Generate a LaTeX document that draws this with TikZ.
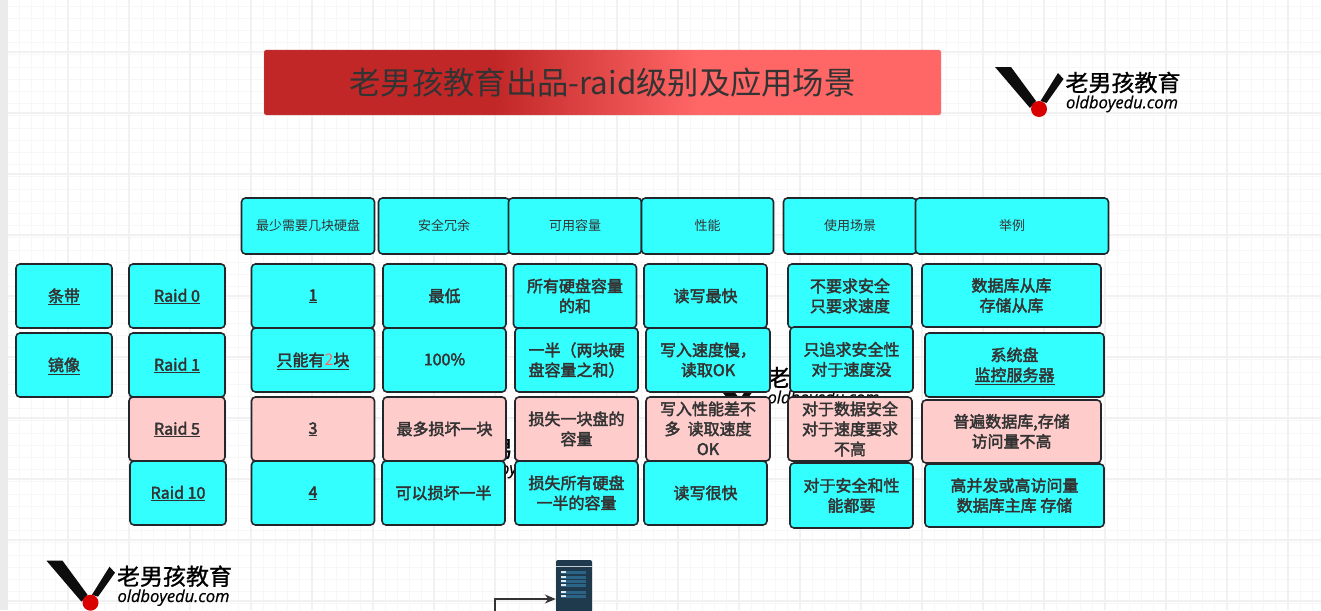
\documentclass[tikz,border=0pt]{standalone}
\usepackage{fontspec}
\setmainfont{Noto Sans CJK SC}
\newfontfamily\cellfont[FakeBold=2.5]{Noto Sans CJK SC}
\newfontfamily\logolatin[FakeBold=0.5]{Open Sans}
\newfontfamily\logocjk[FakeBold=1]{Noto Sans CJK SC}
\usepackage{xcolor}
\usetikzlibrary{positioning}
\usetikzlibrary{arrows.meta}
\definecolor{cellcyan}{HTML}{33FFFF}
\definecolor{cellpink}{HTML}{FFCCCC}
\definecolor{celledge}{HTML}{23272B}
\definecolor{celltext}{HTML}{333333}
\definecolor{titledark}{HTML}{C12727}
\definecolor{titlelight}{HTML}{FF6666}
\definecolor{gridminor}{HTML}{F7F7F7}
\definecolor{gridmajor}{HTML}{F1F1F1}
\definecolor{serverdark}{HTML}{1F3A4D}
\definecolor{serverrow}{HTML}{2C6488}
\pgfdeclarehorizontalshading{titlegrad}{100bp}{color(0bp)=(titledark); color(42bp)=(titledark); color(57bp)=(titlelight); color(100bp)=(titlelight)}
\tikzset{
    x=1pt, y=-1pt,
    cell/.style={ % Sets the properties for each table box
        draw=celledge,
        line width=1.6pt,
        rounded corners=4pt,
        fill=cellcyan,
        text=celltext,
        align=center,
        inner sep=1pt,
        outer sep=0pt,
        minimum width=123pt,
        minimum height=64pt,
        text depth=1.5pt,
        font=\cellfont\fontsize{16}{20}\selectfont
    },
    pinkcell/.style={cell, fill=cellpink},
    headcell/.style={cell, minimum height=56pt, font=\rmfamily\fontsize{13}{15}\selectfont},
    sidecell/.style={cell, minimum width=96pt},
    widecell/.style={cell, minimum width=179pt},
    logobrand/.pic={ % The logo, its origin is the top left of the V
        \fill[black!95] (0,0) -- (16,0) -- (41,34) -- (35,41) -- cycle;
        \fill[black!95] (63,6) -- (68.5,12) -- (51.5,36) -- (45.5,34) -- cycle;
        \fill[red!85!black] (44,42) circle (8);
        \node[inner sep=0pt, text=black, font=\logocjk\fontsize{23}{23}\selectfont] at (128,15.5) {老男孩教育};
        \node[inner sep=0pt, text=black, font=\logolatin\itshape\fontsize{16.5}{16}\selectfont] at (127,37) {oldboyedu.com};
    }
}
\begin{document}
\begin{tikzpicture}
    \clip (0,0) rectangle (1321,610);
    \fill[white] (0,0) rectangle (1321,610);
    % grid of the canvas
    \foreach \gx in {0,...,108} \draw[gridminor, line width=0.8pt] (7+12.2*\gx,0) -- (7+12.2*\gx,610);
    \foreach \gy in {0,...,50} \draw[gridminor, line width=0.8pt] (0,6+12.2*\gy) -- (1321,6+12.2*\gy);
    \foreach \gx in {0,...,21} \draw[gridmajor, line width=1.2pt] (7+61*\gx,0) -- (7+61*\gx,610);
    \foreach \gy in {0,...,9} \draw[gridmajor, line width=1.2pt] (0,52+61*\gy) -- (1321,52+61*\gy);
    \fill[black!8] (0,0) rectangle (7.5,610);

    % title
    \node[shade, shading=titlegrad, draw=black!25, densely dotted, rounded corners=2pt, minimum width=677pt, minimum height=65pt, text=celltext, font=\fontsize{31.3}{36}\selectfont] (title) at (602.5,82.5) {老男孩教育出品-raid级别及应用场景};

    % logos, two of them lie behind the table
    \pic at (995,67) {logobrand};
    \pic at (46.5,560.7) {logobrand};
    \pic at (696.5,362) {logobrand};
    \pic at (396.5,433) {logobrand};

    % table head
    \node[headcell, minimum width=133pt] (head1) at (308,226) {最少需要几块硬盘};
    \node[headcell, minimum width=131pt, right=4pt of head1] (head2) {安全冗余};
    \node[headcell, minimum width=133pt, right=-1pt of head2] (head3) {可用容量};
    \node[headcell, minimum width=132pt, right=0pt of head3] (head4) {性能};
    \node[headcell, minimum width=133pt, right=10pt of head4] (head5) {使用场景};
    \node[headcell, minimum width=193pt, right=-1pt of head5] (head6) {举例};

    % left columns
    \node[sidecell] (strip) at (64,296) {\underline{条带}};
    \node[sidecell, below=5pt of strip] (mirror) {\underline{镜像}};
    \node[sidecell] (raid0) at (177,296) {\underline{Raid 0}};
    \node[sidecell, below=5pt of raid0] (raid1) {\underline{Raid 1}};
    \node[sidecell, fill=cellpink, below=0pt of raid1] (raid5) {\underline{Raid 5}};
    \node[sidecell, below=0pt of raid5, xshift=1pt] (raid10) {\underline{Raid 10}};

    % disks
    \node[cell] (disk0) at (313,296) {\underline{1}};
    \node[cell, below=0pt of disk0] (disk1) {\underline{只能有{\rmfamily\color{titlelight}2}块}};
    \node[pinkcell, below=5pt of disk1] (disk5) {\underline{3}};
    \node[cell, below=0pt of disk5] (disk10) {\underline{4}};

    % safety
    \node[cell] (safe0) at (444.5,296) {最低};
    \node[cell, below=0pt of safe0] (safe1) {100\%};
    \node[pinkcell, below=5pt of safe1] (safe5) {最多损坏一块};
    \node[cell, below=0pt of safe5, xshift=-1pt] (safe10) {可以损坏一半};

    % capacity
    \node[cell] (size0) at (575,296) {所有硬盘容量\\的和};
    \node[cell, below=0pt of size0, xshift=1.5pt] (size1) {一半（两块硬\\盘容量之和）};
    \node[pinkcell, below=5pt of size1] (size5) {损失一块盘的\\容量};
    \node[cell, below=0pt of size5] (size10) {损失所有硬盘\\一半的容量};

    % speed
    \node[cell] (speed0) at (705.5,296) {读写最快};
    \node[cell, minimum width=124pt, below=0pt of speed0, xshift=2.5pt] (speed1) {写入速度慢，\\读取OK};
    \node[pinkcell, minimum width=124pt, below=5pt of speed1] (speed5) {写入性能差不\\多\ \ 读取速度\\OK};
    \node[cell, below=0pt of speed5, xshift=-2.5pt] (speed10) {读写很快};

    % usage
    \node[cell, minimum width=124pt] (use0) at (850,296) {不要求安全\\只要求速度};
    \node[cell, below=-1pt of use0, xshift=1.5pt, minimum height=65pt] (use1) {只追求安全性\\对于速度没};
    \node[pinkcell, minimum width=124pt, below=5pt of use1, xshift=-1.5pt] (use5) {对于数据安全\\对于速度要求\\不高};
    \node[cell, minimum height=65pt, below=2pt of use5, xshift=1.5pt] (use10) {对于安全和性\\能都要};

    % examples
    \node[widecell, minimum height=63pt] (case0) at (1011.5,295.5) {数据库从库\\存储从库};
    \node[widecell, below=6pt of case0, xshift=3pt] (case1) {系统盘\\\underline{监控服务器}};
    \node[pinkcell, minimum width=179pt, minimum height=63pt, below=3pt of case1, xshift=-3pt] (case5) {普遍数据库,存储\\访问量不高};
    \node[widecell, minimum height=63pt, below=1pt of case5, xshift=3pt] (case10) {高并发或高访问量\\数据库主库 存储};

    % server and its feed
    \node[draw=none, fill=serverdark, rounded corners=2pt, minimum width=36pt, minimum height=78pt, inner sep=0pt] (server) at (574,599) {};
    \draw[white!75!serverdark, line width=0.8pt] (556,566.5) -- (592,566.5);
    \foreach \ry in {572,577,581,585,592,596} {
        \fill[serverrow] (561,\ry-1.5) rectangle (586,\ry+1.5);
        \fill[white!85!serverrow] (561,\ry-0.7) rectangle (565.5,\ry+0.7);
    }
    \coordinate (feed) at (495,620);
    \draw[draw=celltext, line width=1.5pt, -{Stealth[length=11pt,width=9pt]}] (feed) |- (server);
\end{tikzpicture}
\end{document}
